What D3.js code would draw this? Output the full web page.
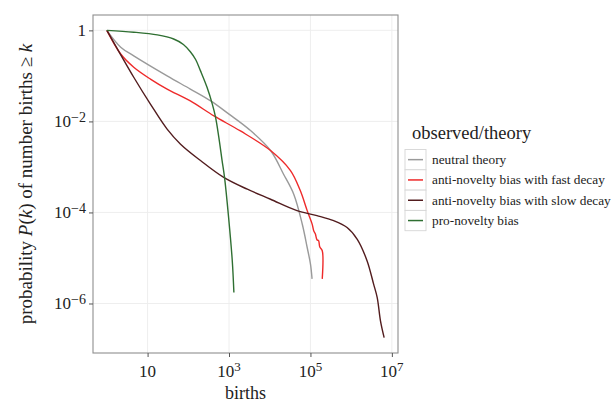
<!DOCTYPE html>
<html lang="en">
<head>
    <meta charset="UTF-8">
    <title>births</title>
    <script src="https://cdn.jsdelivr.net/npm/d3@7/dist/d3.min.js"></script>
    <style>
        *{
            padding: 0;
            margin: 0;
        }
        body{
            background: #fff;
        }
        svg{
            display: block;
            font-family: "Liberation Serif", "DejaVu Serif", serif;
        }
    </style>
</head>
<body>
    <script>
        // curves, as log10(births) and log10(P)
        let neutralLogK = [0, 0.34, 0.66, 1.48, 2.05, 2.55, 3.0, 3.5, 4.02, 4.34, 4.59, 4.8, 4.92, 5.0, 5.04];
        let neutralLogP = [0, -0.37, -0.56, -1.0, -1.29, -1.55, -1.84, -2.18, -2.64, -3.16, -3.6, -4.26, -4.77, -5.13, -5.46];

        let fastLogK = [0, 0.34, 0.66, 1.07, 1.48, 2.05, 2.63, 3.28, 4.02, 4.51, 4.75, 4.92, 5.04, 5.08, 5.12, 5.16, 5.2, 5.23, 5.29, 5.29];
        let fastLogP = [0, -0.52, -0.81, -1.07, -1.29, -1.55, -1.88, -2.21, -2.64, -3.08, -3.52, -3.96, -4.25, -4.4, -4.47, -4.6, -4.62, -4.76, -4.84, -5.46];

        let slowLogK = [0, 0.66, 1.07, 1.48, 1.81, 2.3, 2.87, 3.45, 4.02, 4.67, 5.16, 5.57, 5.9, 6.15, 6.39, 6.55, 6.64, 6.72, 6.81];
        let slowLogP = [0, -1.03, -1.62, -2.17, -2.5, -2.86, -3.23, -3.49, -3.71, -3.96, -4.07, -4.18, -4.33, -4.59, -5.06, -5.57, -5.87, -6.38, -6.75];

        let proLogK = [0, 0.66, 1.24, 1.64, 1.88, 2.05, 2.18, 2.3, 2.46, 2.59, 2.67, 2.75, 2.83, 2.89, 2.99, 3.08, 3.12];
        let proLogP = [0, -0.04, -0.1, -0.19, -0.31, -0.47, -0.64, -0.89, -1.25, -1.62, -1.91, -2.35, -2.86, -3.23, -4.11, -5.06, -5.76];

        let seriesNames = ["neutral theory", "anti-novelty bias with fast decay", "anti-novelty bias with slow decay", "pro-novelty bias"];
        let seriesColors = ["#9a9a9a", "#ee2a2a", "#521c1e", "#2f6f32"];

        let xTickValues = [10, 1e3, 1e5, 1e7];
        let xTickExp = ["", "3", "5", "7"];
        let yTickValues = [1, 1e-2, 1e-4, 1e-6];
        let yTickExp = ["", "\u22122", "\u22124", "\u22126"];

        let pLeft = 93, pRight = 398, pTop = 15, pBottom = 353;

        var svg = d3.select("body")
            .append("svg")
            .attr("width", 611)
            .attr("height", 403);

        function toPoints(lk, lp){
            return lk.map(function(v, i){ return {k: Math.pow(10, v), p: Math.pow(10, lp[i])}; });
        }
        let series = [
            toPoints(neutralLogK, neutralLogP),
            toPoints(fastLogK, fastLogP),
            toPoints(slowLogK, slowLogP),
            toPoints(proLogK, proLogP)
        ];

        // ggplot style 5% padding on log range
        let allK = [].concat(neutralLogK, fastLogK, slowLogK, proLogK);
        let allP = [].concat(neutralLogP, fastLogP, slowLogP, proLogP);
        let kMin = d3.min(allK), kMax = d3.max(allK);
        let pMin = d3.min(allP), pMax = d3.max(allP);
        let kPad = (kMax - kMin) * 0.05, pPad = (pMax - pMin) * 0.05;

        let x = d3.scaleLog()
            .domain([Math.pow(10, kMin - kPad), Math.pow(10, kMax + kPad)])
            .range([pLeft, pRight]);
        let y = d3.scaleLog()
            .domain([Math.pow(10, pMin - pPad), Math.pow(10, pMax + pPad)])
            .range([pBottom, pTop]);

        // grid
        svg.selectAll("line.vgrid").data(xTickValues).enter().append("line")
            .attr("class", "vgrid")
            .attr("x1", function(d){ return x(d); })
            .attr("x2", function(d){ return x(d); })
            .attr("y1", pTop).attr("y2", pBottom)
            .attr("stroke", "#ececec").attr("stroke-width", 0.9);
        svg.selectAll("line.hgrid").data(yTickValues).enter().append("line")
            .attr("class", "hgrid")
            .attr("x1", pLeft).attr("x2", pRight)
            .attr("y1", function(d){ return y(d); })
            .attr("y2", function(d){ return y(d); })
            .attr("stroke", "#ececec").attr("stroke-width", 0.9);

        // curves
        svg.append("clipPath").attr("id", "panel")
            .append("rect").attr("x", pLeft).attr("y", pTop)
            .attr("width", pRight - pLeft).attr("height", pBottom - pTop);
        let line = d3.line()
            .x(function(d){ return x(d.k); })
            .y(function(d){ return y(d.p); })
            .curve(d3.curveCatmullRom.alpha(0.5));
        series.forEach(function(pts, i){
            svg.append("path")
                .attr("d", line(pts))
                .attr("fill", "none")
                .attr("stroke", seriesColors[i])
                .attr("stroke-width", 1.4)
                .attr("stroke-linejoin", "round")
                .attr("clip-path", "url(#panel)");
        });

        // panel border
        svg.append("rect")
            .attr("x", pLeft).attr("y", pTop)
            .attr("width", pRight - pLeft).attr("height", pBottom - pTop)
            .attr("fill", "none").attr("stroke", "#8f8f8f").attr("stroke-width", 1.1);

        // x axis
        let xAxis = d3.axisBottom(x).tickValues(xTickValues).tickSize(4).tickFormat("");
        let gx = svg.append("g").attr("transform", "translate(0," + pBottom + ")").call(xAxis);
        gx.select(".domain").remove();
        gx.selectAll(".tick line").attr("stroke", "#555");
        xTickValues.forEach(function(v, i){
            let t = svg.append("text")
                .attr("x", x(v))
                .attr("y", 377)
                .attr("text-anchor", "middle")
                .attr("font-size", 17)
                .attr("fill", "#222");
            t.append("tspan").text("10");
            if(xTickExp[i]){
                t.append("tspan").attr("dy", -6).attr("font-size", 13).text(xTickExp[i]);
            }
        });

        // y axis
        let yAxis = d3.axisLeft(y).tickValues(yTickValues).tickSize(4).tickFormat("");
        let gy = svg.append("g").attr("transform", "translate(" + pLeft + ",0)").call(yAxis);
        gy.select(".domain").remove();
        gy.selectAll(".tick line").attr("stroke", "#555");
        yTickValues.forEach(function(v, i){
            let t = svg.append("text")
                .attr("x", 86)
                .attr("y", y(v) + 6)
                .attr("text-anchor", "end")
                .attr("font-size", 17)
                .attr("fill", "#222");
            if(yTickExp[i]){
                t.append("tspan").text("10");
                t.append("tspan").attr("dy", -5.5).attr("font-size", 14).text(yTickExp[i]);
            }else{
                t.append("tspan").text("1");
            }
        });

        // axis titles
        svg.append("text")
            .attr("x", (pLeft + pRight) / 2).attr("y", 399)
            .attr("text-anchor", "middle")
            .attr("font-size", 18).attr("fill", "#222")
            .text("births");
        let yl = svg.append("text")
            .attr("transform", "translate(32," + ((pTop + pBottom) / 2) + ") rotate(-90)")
            .attr("text-anchor", "middle")
            .attr("font-size", 19).attr("fill", "#222");
        yl.append("tspan").text("probability ");
        yl.append("tspan").attr("font-style", "italic").text("P");
        yl.append("tspan").text("(");
        yl.append("tspan").attr("font-style", "italic").text("k");
        yl.append("tspan").text(") of number births \u2265 ");
        yl.append("tspan").attr("font-style", "italic").text("k");

        // legend
        svg.append("text")
            .attr("x", 412).attr("y", 139)
            .attr("font-size", 18.5).attr("fill", "#222")
            .text("observed/theory");
        let keyH = 20.3, keyTop = 149.5, keyLeft = 405, keyW = 21;
        seriesNames.forEach(function(name, i){
            let ky = keyTop + i * keyH;
            svg.append("rect")
                .attr("x", keyLeft).attr("y", ky)
                .attr("width", keyW).attr("height", keyH)
                .attr("fill", "#fff").attr("stroke", "#d6d6d6").attr("stroke-width", 0.9);
            svg.append("line")
                .attr("x1", keyLeft + 3).attr("x2", keyLeft + keyW - 3)
                .attr("y1", ky + keyH / 2).attr("y2", ky + keyH / 2)
                .attr("stroke", seriesColors[i]).attr("stroke-width", 1.5);
            svg.append("text")
                .attr("x", 432).attr("y", ky + keyH / 2 + 4.5)
                .attr("font-size", 13.3).attr("fill", "#222")
                .text(name);
        });
    </script>
</body>
</html>
